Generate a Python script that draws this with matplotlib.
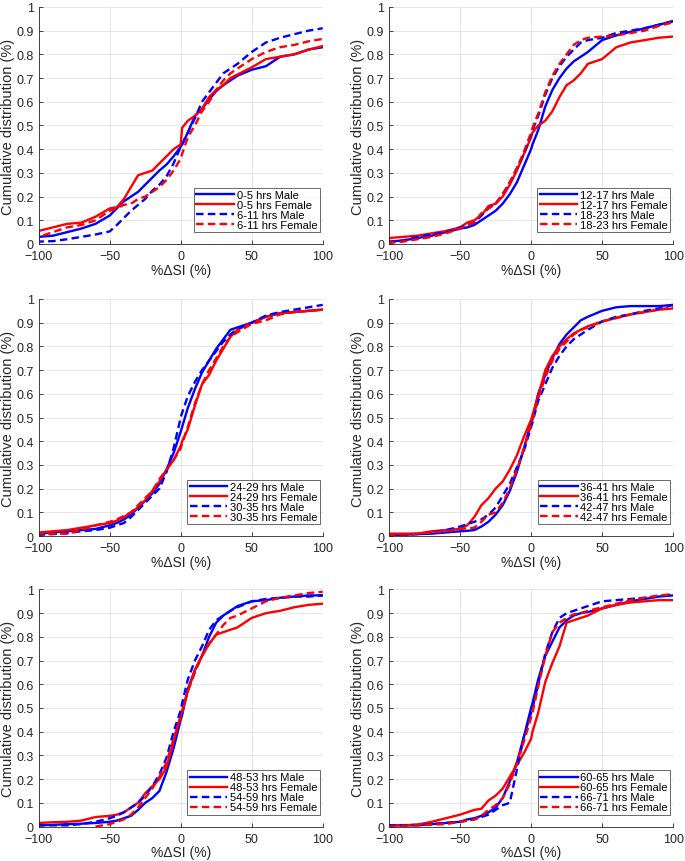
import numpy as np
import matplotlib
matplotlib.use('Agg')
import matplotlib.pyplot as plt
from matplotlib.ticker import FuncFormatter

plt.rcParams['font.family'] = ['Liberation Sans', 'DejaVu Sans']

nan = np.nan

x = [-100, -100, -90, -80, -70, -60, -50, -45, -40, -35, -30, -25, -20, -15, -10, -5,
     0, 1, 5, 10, 15, 20, 25, 30, 35, 40, 50, 60, 70, 80, 90, 100]

# panel 1
p1_labels = ['0-5 hrs Male', '0-5 hrs Female', '6-11 hrs Male', '6-11 hrs Female']
p1_m1 = [0, 0.03, 0.035, 0.05, 0.065, 0.085, 0.12, 0.15, 0.18, 0.20, 0.22, 0.25, 0.28, 0.31, 0.335, 0.37,
         0.41, 0.42, 0.47, 0.54, 0.57, 0.61, 0.645, 0.67, 0.69, 0.71, 0.735, 0.75, 0.79, 0.80, 0.82, 0.83]
p1_f1 = [0, 0.055, 0.07, 0.085, 0.09, 0.115, 0.15, 0.155, 0.19, 0.24, 0.29, 0.30, 0.31, 0.34, 0.37, 0.40,
         0.42, 0.49, 0.52, 0.54, 0.57, 0.62, 0.65, 0.67, 0.70, 0.715, 0.745, 0.78, 0.79, 0.80, 0.82, 0.835]
p1_m2 = [0, 0.01, 0.012, 0.02, 0.03, 0.04, 0.053, 0.08, 0.11, 0.14, 0.165, 0.19, 0.225, 0.25, 0.285, 0.34,
         0.41, 0.42, 0.47, 0.53, 0.60, 0.64, 0.68, 0.72, 0.74, 0.76, 0.81, 0.85, 0.87, 0.885, 0.90, 0.91]
p1_f2 = [0, 0.03, 0.05, 0.07, 0.08, 0.10, 0.14, 0.15, 0.165, 0.17, 0.19, 0.20, 0.22, 0.24, 0.27, 0.31,
         0.36, 0.38, 0.45, 0.50, 0.56, 0.60, 0.65, 0.69, 0.72, 0.74, 0.78, 0.81, 0.83, 0.84, 0.855, 0.865]

# panel 2
p2_labels = ['12-17 hrs Male', '12-17 hrs Female', '18-23 hrs Male', '18-23 hrs Female']
p2_m1 = [0, 0.01, 0.015, 0.025, 0.035, 0.05, 0.065, 0.07, 0.08, 0.10, 0.12, 0.14, 0.17, 0.21, 0.26, 0.33,
         0.40, 0.42, 0.48, 0.58, 0.65, 0.70, 0.74, 0.77, 0.79, 0.81, 0.86, 0.88, 0.895, 0.91, 0.925, 0.94]
p2_f1 = [0, 0.025, 0.03, 0.035, 0.045, 0.055, 0.07, 0.09, 0.10, 0.12, 0.16, 0.17, 0.20, 0.25, 0.31, 0.38,
         0.45, 0.47, 0.50, 0.52, 0.56, 0.62, 0.67, 0.69, 0.72, 0.76, 0.78, 0.83, 0.85, 0.86, 0.87, 0.875]
p2_m2 = [0, 0.005, 0.015, 0.03, 0.04, 0.05, 0.07, 0.08, 0.09, 0.12, 0.15, 0.17, 0.21, 0.26, 0.32, 0.38,
         0.46, 0.48, 0.54, 0.63, 0.70, 0.75, 0.79, 0.82, 0.85, 0.86, 0.87, 0.89, 0.90, 0.91, 0.925, 0.94]
p2_f2 = [0, 0.005, 0.01, 0.02, 0.03, 0.045, 0.065, 0.08, 0.09, 0.13, 0.15, 0.17, 0.21, 0.26, 0.32, 0.39,
         0.47, 0.49, 0.55, 0.64, 0.71, 0.76, 0.80, 0.84, 0.86, 0.87, 0.875, 0.88, 0.89, 0.90, 0.92, 0.935]

# panel 3
p3_labels = ['24-29 hrs Male', '24-29 hrs Female', '30-35 hrs Male', '30-35 hrs Female']
p3_m1 = [0, 0.01, 0.015, 0.02, 0.025, 0.03, 0.045, 0.055, 0.07, 0.09, 0.12, 0.15, 0.18, 0.22, 0.28, 0.35,
         0.44, 0.46, 0.54, 0.62, 0.69, 0.74, 0.79, 0.83, 0.87, 0.88, 0.90, 0.925, 0.94, 0.945, 0.95, 0.955]
p3_f1 = [0, 0.015, 0.02, 0.025, 0.035, 0.045, 0.055, 0.065, 0.08, 0.10, 0.12, 0.15, 0.19, 0.23, 0.28, 0.32,
         0.38, 0.40, 0.45, 0.55, 0.64, 0.68, 0.74, 0.79, 0.84, 0.87, 0.90, 0.925, 0.94, 0.945, 0.95, 0.955]
p3_m2 = [0, 0.005, 0.008, 0.012, 0.02, 0.025, 0.035, 0.045, 0.055, 0.08, 0.11, 0.14, 0.17, 0.20, 0.27, 0.37,
         0.50, 0.52, 0.59, 0.65, 0.70, 0.74, 0.78, 0.82, 0.85, 0.875, 0.90, 0.93, 0.945, 0.955, 0.965, 0.975]
p3_f2 = [0, 0.01, 0.01, 0.01, 0.025, 0.045, 0.06, 0.07, 0.085, 0.10, 0.13, 0.16, 0.19, 0.24, 0.28, 0.32,
         0.37, 0.39, 0.46, 0.56, 0.64, 0.70, 0.75, 0.80, 0.84, 0.86, 0.895, 0.91, 0.935, 0.945, 0.95, 0.955]

# panel 4
p4_labels = ['36-41 hrs Male', '36-41 hrs Female', '42-47 hrs Male', '42-47 hrs Female']
p4_m1 = [0, 0.005, 0.005, 0.008, 0.01, 0.015, 0.02, 0.022, 0.025, 0.04, 0.06, 0.09, 0.13, 0.19, 0.27, 0.37,
         0.48, 0.50, 0.60, 0.68, 0.75, 0.81, 0.85, 0.88, 0.91, 0.925, 0.95, 0.965, 0.97, 0.97, 0.97, 0.975]
p4_f1 = [0, 0.01, 0.01, 0.01, 0.02, 0.025, 0.03, 0.045, 0.08, 0.13, 0.16, 0.20, 0.23, 0.28, 0.34, 0.42,
         0.49, 0.51, 0.59, 0.70, 0.76, 0.80, 0.83, 0.855, 0.87, 0.885, 0.905, 0.92, 0.935, 0.945, 0.955, 0.96]
p4_m2 = [0, 0.005, 0.006, 0.008, 0.015, 0.025, 0.04, 0.05, 0.06, 0.07, 0.09, 0.12, 0.17, 0.22, 0.29, 0.36,
         0.46, 0.48, 0.57, 0.64, 0.71, 0.76, 0.80, 0.83, 0.85, 0.87, 0.905, 0.925, 0.935, 0.95, 0.96, 0.975]
p4_f2 = [0, 0.005, 0.007, 0.01, 0.015, 0.02, 0.03, 0.032, 0.035, 0.06, 0.09, 0.10, 0.14, 0.20, 0.28, 0.37,
         0.47, 0.49, 0.58, 0.67, 0.74, 0.79, 0.82, 0.85, 0.87, 0.88, 0.905, 0.92, 0.935, 0.945, 0.955, 0.965]

# panel 5
p5_labels = ['48-53 hrs Male', '48-53 hrs Female', '54-59 hrs Male', '54-59 hrs Female']
p5_m1 = [0, 0.005, 0.007, 0.01, 0.012, 0.015, 0.02, 0.025, 0.035, 0.045, 0.07, 0.10, 0.12, 0.15, 0.23, 0.33,
         0.45, 0.47, 0.58, 0.66, 0.72, 0.80, 0.86, 0.89, 0.91, 0.93, 0.95, 0.955, 0.965, 0.97, 0.975, 0.975]
p5_f1 = [0, 0.015, 0.018, 0.02, 0.025, 0.04, 0.045, 0.05, 0.06, 0.08, 0.10, 0.14, 0.17, 0.20, 0.25, 0.36,
         0.47, 0.49, 0.57, 0.66, 0.72, 0.77, 0.81, 0.82, 0.83, 0.84, 0.88, 0.90, 0.91, 0.925, 0.935, 0.94]
p5_m2 = [0, 0.005, 0.005, 0.005, 0.01, 0.02, 0.035, 0.045, 0.06, 0.08, 0.10, 0.13, 0.17, 0.22, 0.29, 0.40,
         0.49, 0.52, 0.62, 0.70, 0.76, 0.83, 0.87, 0.89, 0.91, 0.925, 0.95, 0.96, 0.965, 0.97, 0.97, 0.975]
p5_f2 = [nan, nan, nan, nan, nan, 0, 0.01, 0.02, 0.03, 0.05, 0.08, 0.12, 0.16, 0.21, 0.27, 0.37,
         0.46, 0.48, 0.57, 0.65, 0.72, 0.77, 0.81, 0.85, 0.88, 0.89, 0.92, 0.95, 0.965, 0.975, 0.985, 0.99]

# panel 6
p6_labels = ['60-65 hrs Male', '60-65 hrs Female', '66-71 hrs Male', '66-71 hrs Female']
p6_m1 = [0, 0.005, 0.005, 0.005, 0.01, 0.015, 0.02, 0.03, 0.035, 0.045, 0.06, 0.08, 0.12, 0.19, 0.27, 0.38,
         0.50, 0.52, 0.62, 0.72, 0.78, 0.84, 0.87, 0.89, 0.90, 0.905, 0.92, 0.935, 0.95, 0.96, 0.97, 0.975]
p6_f1 = [0, 0.005, 0.005, 0.008, 0.02, 0.035, 0.05, 0.06, 0.07, 0.075, 0.11, 0.13, 0.16, 0.21, 0.26, 0.31,
         0.37, 0.40, 0.48, 0.61, 0.69, 0.76, 0.86, 0.87, 0.88, 0.89, 0.92, 0.935, 0.945, 0.95, 0.955, 0.955]
p6_m2 = [0, 0.005, 0.006, 0.007, 0.01, 0.015, 0.02, 0.025, 0.03, 0.04, 0.05, 0.07, 0.09, 0.10, 0.24, 0.38,
         0.48, 0.50, 0.60, 0.73, 0.82, 0.88, 0.90, 0.91, 0.92, 0.93, 0.95, 0.955, 0.96, 0.965, 0.97, 0.98]
p6_f2 = [0, 0, 0.003, 0.005, 0.008, 0.01, 0.02, 0.025, 0.03, 0.045, 0.07, 0.09, 0.12, 0.18, 0.27, 0.36,
         0.46, 0.48, 0.59, 0.72, 0.82, 0.86, 0.88, 0.895, 0.90, 0.91, 0.925, 0.94, 0.955, 0.965, 0.975, 0.98]

panels = [
    (p1_labels, [p1_m1, p1_f1, p1_m2, p1_f2]),
    (p2_labels, [p2_m1, p2_f1, p2_m2, p2_f2]),
    (p3_labels, [p3_m1, p3_f1, p3_m2, p3_f2]),
    (p4_labels, [p4_m1, p4_f1, p4_m2, p4_f2]),
    (p5_labels, [p5_m1, p5_f1, p5_m2, p5_f2]),
    (p6_labels, [p6_m1, p6_f1, p6_m2, p6_f2]),
]

colors = ['#0000ff', '#ff0000', '#0000ff', '#ff0000']
styles = ['-', '-', '--', '--']

fig = plt.figure(figsize=(6.85, 8.62), dpi=100)
lefts = [0.0565, 0.568]
bottoms = [0.7158, 0.377, 0.04]
w, h = 0.4146, 0.275

for i, (labels, series) in enumerate(panels):
    ax = fig.add_axes([lefts[i % 2], bottoms[i // 2], w, h])
    for y, c, ls, lab in zip(series, colors, styles, labels):
        line, = ax.plot(x, y, color=c, linestyle=ls, linewidth=1.7, label=lab)
        if ls == '--':
            line.set_dashes((3.2, 1.8))
    ax.set_xlim(-100, 100)
    ax.set_ylim(0, 1)
    ax.set_xticks([-100, -50, 0, 50, 100])
    ax.set_yticks(np.arange(0, 1.01, 0.1))
    ax.yaxis.set_major_formatter(FuncFormatter(lambda v, p: '%g' % round(v, 1)))
    ax.grid(True, color='#e3e3e3', linewidth=0.6)
    ax.set_axisbelow(True)
    for s in ['top', 'right']:
        ax.spines[s].set_visible(False)
    for s in ['left', 'bottom']:
        ax.spines[s].set_color('#262626')
        ax.spines[s].set_linewidth(0.6)
    ax.tick_params(direction='in', length=3, width=0.6, colors='#262626', labelsize=9)
    ax.tick_params(axis='x', pad=4.5)
    ax.tick_params(axis='y', pad=3.5)
    ax.set_xlabel('%ΔSI (%)', fontsize=10, labelpad=0.5, color='#262626')
    ax.set_ylabel('Cumulative distribution (%)', fontsize=10.5, labelpad=1, color='#262626')
    leg = ax.legend(loc='lower right', bbox_to_anchor=(0.99, 0.05), fontsize=8, frameon=True,
                    fancybox=False, handlelength=3.4, handletextpad=0.25, labelspacing=0.0,
                    borderpad=0.2, borderaxespad=0)
    leg.get_frame().set_edgecolor('#262626')
    leg.get_frame().set_linewidth(0.6)

fig.savefig('out.png', dpi=100)
